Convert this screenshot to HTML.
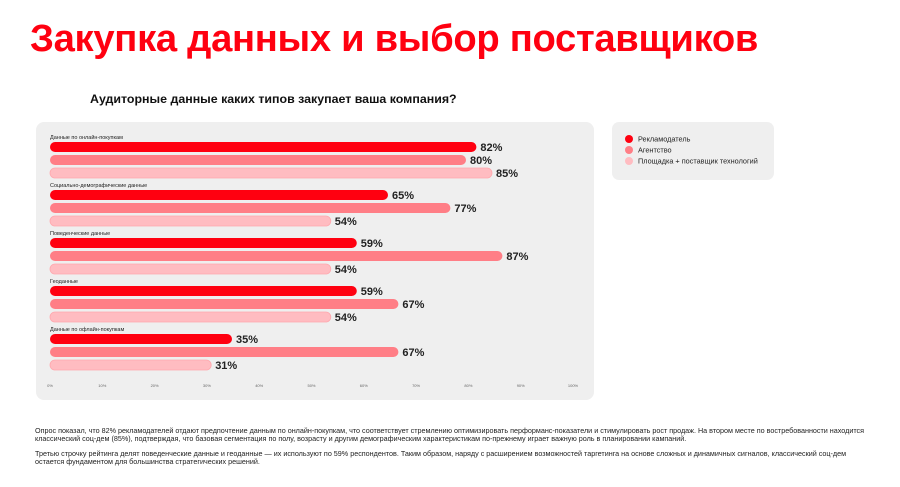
<!DOCTYPE html>
<html><head><meta charset="utf-8"><style>
body{margin:0;width:900px;height:487px;background:#fff;font-family:"Liberation Sans","Noto Sans CJK SC",sans-serif;position:relative;overflow:hidden}
.title{position:absolute;left:30px;top:17px;font-size:38.2px;font-weight:bold;color:#ff0010;letter-spacing:-0.3px;white-space:nowrap}
.sub{position:absolute;left:90px;top:92px;font-size:12.4px;font-weight:bold;color:#111;white-space:nowrap}
.note{position:absolute;left:35px;font-size:7.2px;line-height:8px;color:#222;white-space:nowrap}
</style></head><body>
<div class="title">Закупка данных и выбор поставщиков</div>
<div class="sub">Аудиторные данные каких типов закупает ваша компания?</div>
<svg id="chart" width="900" height="487" style="position:absolute;left:0;top:0">
<rect x="36" y="122" width="558" height="278" rx="8" fill="#efefef"/>
<rect x="612" y="122" width="162" height="58" rx="7" fill="#efefef"/>
<g id="bars"></g><g id="ticks"></g><g id="legend"></g>
</svg>
<div class="note" style="top:427px">Опрос показал, что 82% рекламодателей отдают предпочтение данным по онлайн-покупкам, что соответствует стремлению оптимизировать перформанс-показатели и стимулировать рост продаж. На втором месте по востребованности находится<br>классический соц-дем (85%), подтверждая, что базовая сегментация по полу, возрасту и другим демографическим характеристикам по-прежнему играет важную роль в планировании кампаний.</div>
<div class="note" style="top:450px">Третью строчку рейтинга делят поведенческие данные и геоданные — их используют по 59% респондентов. Таким образом, наряду с расширением возможностей таргетинга на основе сложных и динамичных сигналов, классический соц-дем<br>остается фундаментом для большинства стратегических решений.</div>
<script>
const categories=["Данные по онлайн-покупкам","Социально-демографические данные","Поведенческие данные","Геоданные","Данные по офлайн-покупкам"];
const seriesNames=["Рекламодатель","Агентство","Площадка + поставщик технологий"];
const advertiser=[82,65,59,59,35];
const agency=[80,77,87,67,67];
const platform=[85,54,54,54,31];
const tickLabels=["0%","10%","20%","30%","40%","50%","60%","70%","80%","90%","100%"];
const tickValues=[0,10,20,30,40,50,60,70,80,90,100];
const NS="http://www.w3.org/2000/svg";
const colors=["#ff0010","#ff7e86","#ffbcc1"];
const series=[advertiser,agency,platform];
const x=v=>50+v*5.2;
function mk(tag,attrs,parent){const e=document.createElementNS(NS,tag);for(const k in attrs)e.setAttribute(k,attrs[k]);parent.appendChild(e);return e;}
const bars=document.getElementById('bars');
categories.forEach((c,i)=>{
  const gy=137+i*48;
  const t=mk('text',{x:50,y:gy+2,'font-size':5.5,fill:'#222'},bars);t.textContent=c;
  
  
  series.forEach((s,j)=>{
    const cy=gy+10+j*13;
    const r=mk('rect',{x:50,y:cy-5,width:x(s[i])-50,height:10,rx:5,fill:colors[j],stroke:j==2?'#ffa8ae':'none','stroke-width':0.8},bars);
    
    
    const v=mk('text',{x:x(s[i])+4,y:cy+4,'font-size':11,'font-weight':'bold',fill:'#222'},bars);v.textContent=s[i]+'%';
    
    
  });
});
const ticks=document.getElementById('ticks');
tickValues.forEach((v,i)=>{
  const t=mk('text',{x:50+v*5.23,y:387,'font-size':4,fill:'#666','text-anchor':'middle'},ticks);t.textContent=tickLabels[i];
  
  
});
const lg=document.getElementById('legend');
seriesNames.forEach((n,j)=>{
  const y=139+j*11;
  const c=mk('circle',{cx:629,cy:y,r:4,fill:colors[j]},lg);
  
  
  const t=mk('text',{x:638,y:y+2.5,'font-size':7.3,fill:'#222'},lg);t.textContent=n;
  
  
});
</script>
</body></html>
